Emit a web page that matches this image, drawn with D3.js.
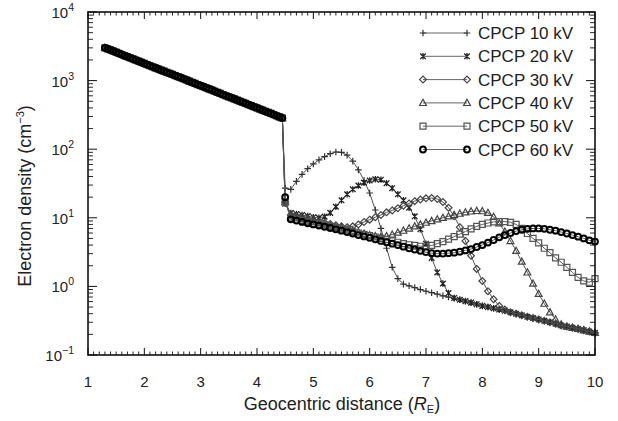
<!DOCTYPE html>
<html><head><meta charset="utf-8">
<script src="https://cdn.jsdelivr.net/npm/d3@7"></script>
<style>
body{margin:0;background:#fff}
text{font-family:"Liberation Sans",Arial,Helvetica,sans-serif;fill:#222}
</style>
</head><body>
<svg id="c" width="618" height="421"></svg>
<script>
// ---- data ----
const trunkDistance = [1.3,1.35,1.4,1.45,1.5,1.55,1.6,1.65,1.7,1.75,1.8,1.85,1.9,1.95,2.0,2.05,2.1,2.15,2.2,2.25,2.3,2.35,2.4,2.45,2.5,2.55,2.6,2.65,2.7,2.75,2.8,2.85,2.9,2.95,3.0,3.05,3.1,3.15,3.2,3.25,3.3,3.35,3.4,3.45,3.5,3.55,3.6,3.65,3.7,3.75,3.8,3.85,3.9,3.95,4.0,4.05,4.1,4.15,4.2,4.25,4.3,4.35,4.4,4.45];
const trunkDensity  = [3000,2900,2800,2700,2600,2500,2400,2310,2230,2150,2070,1990,1920,1850,1780,1710,1650,1590,1530,1475,1420,1370,1320,1275,1230,1185,1140,1100,1060,1020,980,945,910,875,845,815,785,755,730,700,675,650,625,600,580,560,540,520,500,482,465,447,430,415,400,385,370,357,345,332,320,307,295,285];

const distance = [4.5,4.6,4.7,4.8,4.9,5.0,5.1,5.2,5.3,5.4,5.5,5.6,5.7,5.8,5.9,6.0,6.1,6.2,6.3,6.4,6.5,6.6,6.7,6.8,6.9,7.0,7.1,7.2,7.3,7.4,7.5,7.6,7.7,7.8,7.9,8.0,8.1,8.2,8.3,8.4,8.5,8.6,8.7,8.8,8.9,9.0,9.1,9.2,9.3,9.4,9.5,9.6,9.7,9.8,9.9,10.0];

const cpcp10 = [27,26,34,43,52,61,70,78,86,91,90,82,67,50,35,23,13,7,3.6,1.9,1.3,1.08,
  1.02,0.96,0.9,0.85,0.81,0.77,0.73,0.7,0.67,0.64,0.61,0.58,0.55,0.52,0.5,0.48,0.46,0.44,0.42,0.4,0.38,0.36,0.345,0.33,0.315,0.3,0.285,0.27,0.26,0.25,0.24,0.23,0.22,0.21];
const cpcp20 = [16,11.8,11.4,11,10.6,10.2,10.0,10.4,11.8,14.5,18,22,26,29.5,32.5,35,36.5,36,32,27,22,18,14,10.5,6.8,4.2,2.6,1.6,1.1,0.8,0.68,
  0.64,0.61,0.58,0.55,0.52,0.5,0.48,0.46,0.44,0.42,0.4,0.38,0.36,0.345,0.33,0.315,0.3,0.285,0.27,0.26,0.25,0.24,0.23,0.22,0.21];
const cpcp30 = [17,11,10.6,10.1,9.7,9.3,8.9,8.5,8.1,7.8,7.5,7.3,7.5,8,8.7,9.4,10.2,11,12,12.8,13.8,15,16.2,17.5,18.5,19.2,19.4,18.8,17,14,10.5,7.3,4.6,2.8,1.8,1.2,0.85,0.65,0.52,0.46,0.42,
  0.4,0.38,0.36,0.345,0.33,0.315,0.3,0.285,0.27,0.26,0.25,0.24,0.23,0.22,0.21];
const cpcp40 = [17,10.5,10,9.6,9.2,8.8,8.4,8.0,7.7,7.4,7.1,6.8,6.5,6.2,5.9,5.6,5.4,
  5.3,5.4,5.7,6.1,6.5,7.0,7.5,8.0,8.5,9.0,9.5,10,10.5,11,11.5,12,12.4,12.6,12.5,
  11.8,10.3,8.3,6.3,4.6,3.3,2.3,1.6,1.1,0.78,0.56,0.42,0.33,0.28,
  0.26,0.25,0.24,0.23,0.22,0.21];
const cpcp50 = [17,10,9.6,9.2,8.8,8.4,8.1,7.8,7.5,7.2,6.9,6.6,6.3,6.0,5.75,5.5,5.25,5.0,4.8,4.6,4.4,4.2,4.05,3.95,3.85,3.85,3.95,4.2,4.5,4.9,5.3,5.8,6.3,6.9,7.5,8.0,8.4,8.7,8.8,8.8,8.6,8.0,7.0,5.9,5.0,4.3,3.6,3.1,2.6,2.25,1.9,1.6,1.35,1.2,1.15,1.3];
const cpcp60 = [20,9.5,9.1,8.7,8.3,8.0,7.7,7.4,7.1,6.8,6.5,6.2,5.9,5.6,5.35,5.1,4.85,4.6,4.4,4.2,4.0,3.8,3.6,3.45,3.3,3.15,3.05,3.0,3.0,3.05,3.1,3.2,3.35,3.5,3.75,4.0,4.35,4.75,5.2,5.6,6.0,6.4,6.7,6.9,7.0,7.0,6.9,6.7,6.5,6.2,5.9,5.6,5.3,5.0,4.7,4.5];

const seriesNames = ["CPCP 10 kV","CPCP 20 kV","CPCP 30 kV","CPCP 40 kV","CPCP 50 kV","CPCP 60 kV"];
const seriesValues = [cpcp10,cpcp20,cpcp30,cpcp40,cpcp50,cpcp60];
const xTicks = [1,2,3,4,5,6,7,8,9,10];
const yTickExponents = [-1,0,1,2,3,4];

// ---- layout ----
const L = 88, R = 595, T = 12, B = 355;
const svg = d3.select("#c");
const x = d3.scaleLinear().domain([1,10]).range([L,R]);
const y = d3.scaleLog().domain([0.1,1e4]).range([B,T]);

// marker shapes
const markerPath = [
  "M-3.3,0H3.3M0,-3.3V3.3",
  "M-2.8,-2.8L2.8,2.8M-2.8,2.8L2.8,-2.8M0,-3.2V3.2",
  "M0,-3.4L3.4,0L0,3.4L-3.4,0Z",
  "M0,-3.6L3.4,2.6H-3.4Z",
  "M-3,-3H3V3H-3Z",
  null
];
const markerStroke = ["#333","#222","#444","#444","#555","#000"];
const markerWidth = [1.2,1.3,1.2,1.2,1.2,2];

function drawMarker(g, i, px, py){
  if(markerPath[i]){
    g.append("path").attr("d",markerPath[i]).attr("transform",`translate(${px},${py})`)
      .attr("fill","none").attr("stroke",markerStroke[i]).attr("stroke-width",markerWidth[i]);
  } else {
    g.append("circle").attr("cx",px).attr("cy",py).attr("r",2.9)
      .attr("fill","none").attr("stroke",markerStroke[i]).attr("stroke-width",markerWidth[i]);
  }
}

// ---- series ----
const line = d3.line().x(d=>x(d[0])).y(d=>y(d[1]));
const plot = svg.append("g");
seriesValues.forEach((vals,i)=>{
  const pts = trunkDistance.map((d,k)=>[d,trunkDensity[k]]).concat(distance.map((d,k)=>[d,vals[k]]));
  const g = plot.append("g");
  g.append("path").attr("d",line(pts)).attr("fill","none").attr("stroke","#555").attr("stroke-width",1);
  pts.forEach(p=>drawMarker(g,i,x(p[0]),y(p[1])));
});

// ---- axes ----
const minorX = d3.range(10,101).map(v=>v/10).filter(v=>!xTicks.includes(v));
const minorY = [];
yTickExponents.forEach(e=>{ if(e<4) for(let m=2;m<=9;m++) minorY.push(m*Math.pow(10,e)); });
const majorY = yTickExponents.map(e=>Math.pow(10,e));

const ax = svg.append("g").attr("stroke","#111");
xTicks.forEach(v=>{
  ax.append("line").attr("x1",x(v)).attr("x2",x(v)).attr("y1",B).attr("y2",B-7).attr("stroke-width",1);
  ax.append("line").attr("x1",x(v)).attr("x2",x(v)).attr("y1",T).attr("y2",T+7).attr("stroke-width",1);
});
minorX.forEach(v=>{
  ax.append("line").attr("x1",x(v)).attr("x2",x(v)).attr("y1",B).attr("y2",B-3.5).attr("stroke-width",0.9);
  ax.append("line").attr("x1",x(v)).attr("x2",x(v)).attr("y1",T).attr("y2",T+3.5).attr("stroke-width",0.9);
});
majorY.forEach(v=>{
  ax.append("line").attr("x1",L).attr("x2",L+9).attr("y1",y(v)).attr("y2",y(v)).attr("stroke-width",1);
  ax.append("line").attr("x1",R).attr("x2",R-9).attr("y1",y(v)).attr("y2",y(v)).attr("stroke-width",1);
});
minorY.forEach(v=>{
  ax.append("line").attr("x1",L).attr("x2",L+5).attr("y1",y(v)).attr("y2",y(v)).attr("stroke-width",0.9);
  ax.append("line").attr("x1",R).attr("x2",R-5).attr("y1",y(v)).attr("y2",y(v)).attr("stroke-width",0.9);
});
svg.append("rect").attr("x",L).attr("y",T).attr("width",R-L).attr("height",B-T)
  .attr("fill","none").attr("stroke","#111").attr("stroke-width",1.6);

// tick labels
svg.append("g").selectAll("text").data(xTicks).join("text")
  .attr("x",d=>x(d)).attr("y",B+32).attr("text-anchor","middle").attr("font-size",15).text(d=>d);
const yl = svg.append("g").selectAll("text").data(yTickExponents).join("text")
  .attr("x",74).attr("y",d=>y(Math.pow(10,d))+6).attr("text-anchor","end").attr("font-size",15);
yl.append("tspan").text("10");
yl.append("tspan").attr("dy",-7).attr("font-size",10.5).text(d=>d<0?"\u2212"+(-d):d);

// axis titles
const xt = svg.append("text").attr("x",342).attr("y",410).attr("text-anchor","middle").attr("font-size",18);
xt.append("tspan").text("Geocentric distance (");
xt.append("tspan").attr("font-style","italic").text("R");
xt.append("tspan").attr("font-size",11).attr("dy",3).text("E");
xt.append("tspan").attr("dy",-3).text(")");

const yt = svg.append("text").attr("transform","translate(31,196) rotate(-90)").attr("text-anchor","middle").attr("font-size",18);
yt.append("tspan").text("Electron density (cm");
yt.append("tspan").attr("font-size",11).attr("dy",-7).text("\u22123");
yt.append("tspan").attr("dy",7).text(")");

// legend
const lg = svg.append("g");
seriesNames.forEach((name,i)=>{
  const ly = 33 + i*23.3;
  lg.append("line").attr("x1",423).attr("x2",467).attr("y1",ly).attr("y2",ly).attr("stroke","#555").attr("stroke-width",0.9);
  drawMarker(lg,i,423,ly); drawMarker(lg,i,467,ly);
  lg.append("text").attr("x",478).attr("y",ly+6).attr("font-size",17).text(name);
});
</script>
</body></html>
